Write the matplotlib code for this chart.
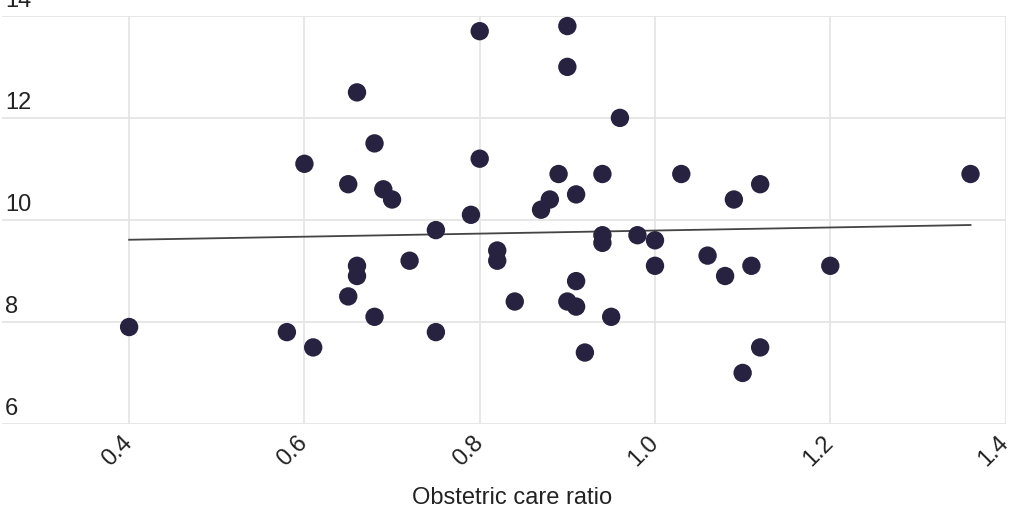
import matplotlib
matplotlib.use("Agg")
import matplotlib.pyplot as plt
import matplotlib.transforms as mtransforms
import numpy as np

# obstetric care ratio vs outcome
care_ratio = [0.40, 0.58, 0.61, 0.60, 0.65, 0.65, 0.66, 0.66, 0.66, 0.68,
              0.68, 0.69, 0.70, 0.72, 0.75, 0.75, 0.79, 0.80, 0.80, 0.82,
              0.82, 0.84, 0.87, 0.88, 0.89, 0.90, 0.90, 0.90, 0.91, 0.91,
              0.91, 0.92, 0.94, 0.94, 0.94, 0.95, 0.96, 0.98, 1.00, 1.00,
              1.03, 1.06, 1.08, 1.09, 1.10, 1.11, 1.12, 1.12, 1.20, 1.36]
outcome = [7.9, 7.8, 7.5, 11.1, 10.7, 8.5, 12.5, 9.1, 8.9, 11.5,
           8.1, 10.6, 10.4, 9.2, 9.8, 7.8, 10.1, 13.7, 11.2, 9.4,
           9.2, 8.4, 10.2, 10.4, 10.9, 13.8, 13.0, 8.4, 10.5, 8.8,
           8.3, 7.4, 10.9, 9.7, 9.55, 8.1, 12.0, 9.7, 9.6, 9.1,
           10.9, 9.3, 8.9, 10.4, 7.0, 9.1, 10.7, 7.5, 9.1, 10.9]

xticks = [0.4, 0.6, 0.8, 1.0, 1.2, 1.4]
xtick_labels = ["0.4", "0.6", "0.8", "1.0", "1.2", "1.4"]
yticks = [6, 8, 10, 12, 14]
ytick_labels = ["6", "8", "10", "12", "14"]

plt.rcParams["font.family"] = ["Liberation Sans", "DejaVu Sans"]

fig = plt.figure(figsize=(10.24, 5.12), dpi=100)
ax = fig.add_axes([0.002, 0.172, 0.98, 0.797])

x = np.array(care_ratio)
y = np.array(outcome)
ax.scatter(x, y, s=175, color="#272240", edgecolors="none", zorder=3)

# linear trend over the data range
slope, intercept = np.polyfit(x, y, 1)
xs = np.array([x.min(), x.max()])
ax.plot(xs, slope * xs + intercept, color="#444444", lw=1.3, zorder=2)

ax.set_xlim(0.255, 1.4)
ax.set_ylim(6, 14)
ax.set_xticks(xticks)
ax.set_xticklabels(xtick_labels, rotation=45, ha="right", va="center",
                   rotation_mode="anchor", fontsize=17, color="#222222")
ax.set_yticks(yticks)
ax.set_yticklabels(ytick_labels, fontsize=17, color="#222222", ha="left", va="bottom")
ax.tick_params(axis="y", length=0, pad=-2)
ax.tick_params(axis="x", length=0, pad=11)

# lift the y labels a little above their gridlines
shift = mtransforms.ScaledTranslation(0, 3 / 72, fig.dpi_scale_trans)
for lab in ax.get_yticklabels():
    lab.set_transform(lab.get_transform() + shift)

ax.set_xlabel("Obstetric care ratio", fontsize=17, color="#222222")
ax.xaxis.set_label_coords(0.508, -0.155)

ax.grid(True, color="#e3e3e3", lw=1.2)
ax.set_axisbelow(True)
for sp in ax.spines.values():
    sp.set_visible(False)

fig.savefig("out.png", dpi=100)
